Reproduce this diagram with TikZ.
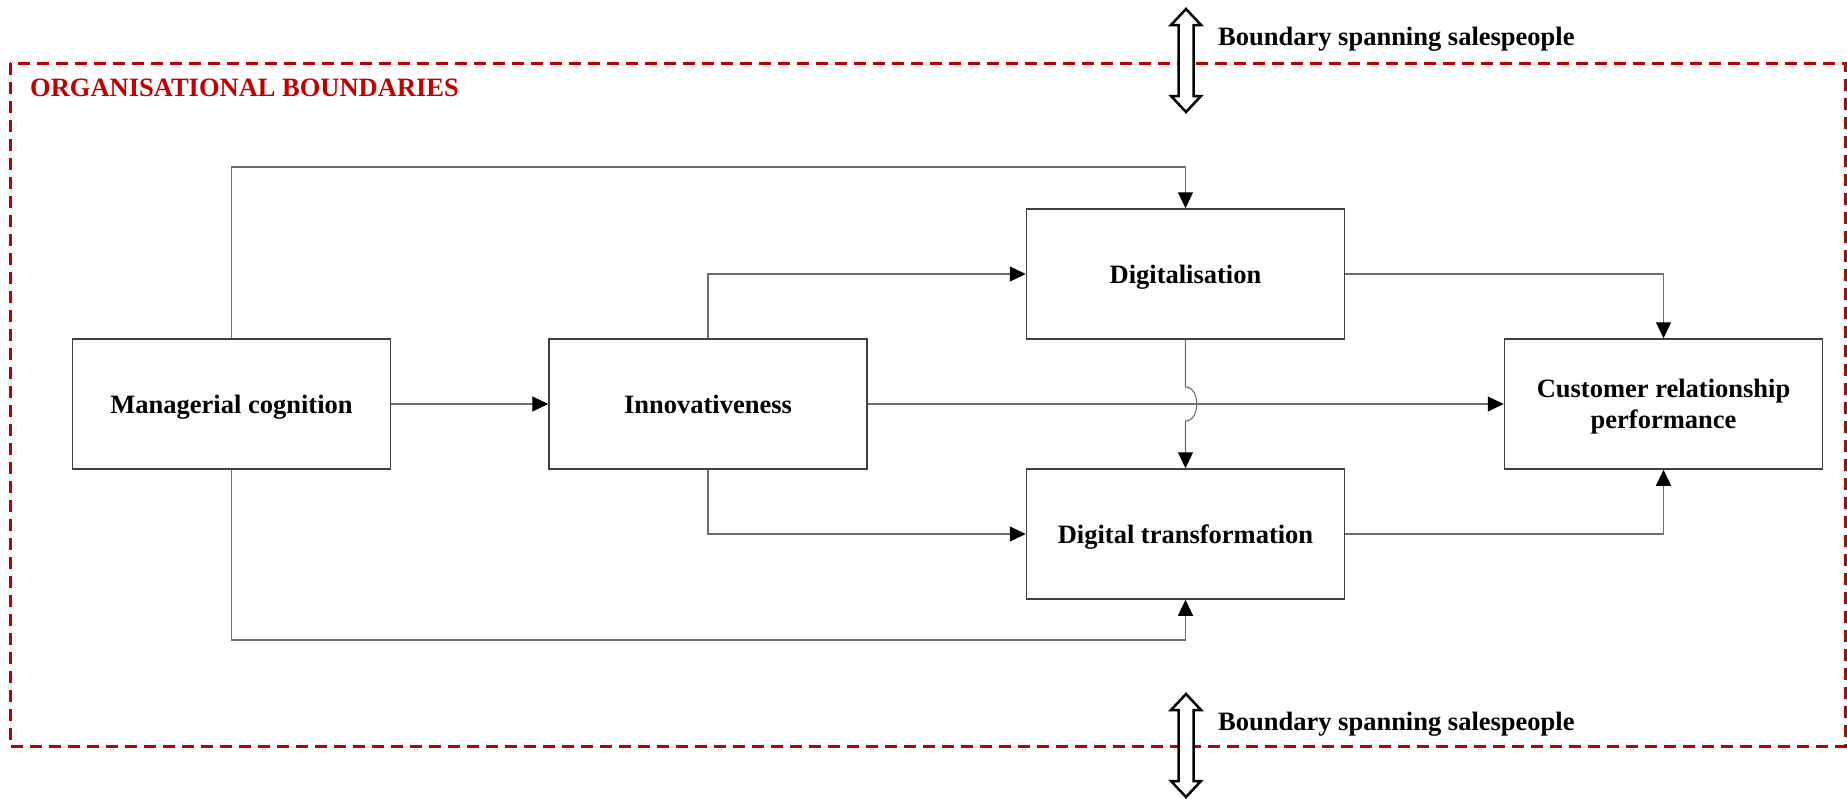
\documentclass[tikz,border=0pt]{standalone}
\usepackage{fontspec}
\setmainfont{Liberation Serif}
\usetikzlibrary{arrows.meta}
\definecolor{orgred}{HTML}{C00000}
\definecolor{boxline}{HTML}{404040}
\definecolor{linkline}{HTML}{6E6E6E}

\tikzset{
  label text/.style={font=\fontsize{26.5}{30.5}\selectfont\bfseries},
  construct/.style={label text, draw=boxline, line width=1.5pt, fill=white,
    minimum width=318pt, minimum height=130pt, align=center, inner sep=0pt,
    text depth=0pt},
  link/.style={draw=linkline, line width=1.1pt,
    -{Triangle[length=16pt,width=15pt,color=black]}},
  boundary/.style={draw=orgred, line width=3pt, dash pattern=on 12pt off 7pt},
  spanarrow/.style={draw=black, line width=2.5pt, fill=white, line join=miter},
  bsarrow/.pic={
    \path[spanarrow] (0,0) -- (15,16) -- (7.5,16) -- (7.5,87) -- (15,87)
      -- (0,103) -- (-15,87) -- (-7.5,87) -- (-7.5,16) -- (-15,16) -- cycle;
  }
}

\begin{document}
\begin{tikzpicture}[x=1pt,y=-1pt]
\useasboundingbox (0,0) rectangle (1847,798);

% organisational boundary
\draw[boundary] (10,63) rectangle (1845,746);
\node[label text, text=orgred, anchor=base west, inner sep=0pt] (orgtitle)
  at (30,96) {ORGANISATIONAL BOUNDARIES};

% constructs
\node[construct] (mc)  at (231.5,404)  {Managerial cognition};
\node[construct] (inn) at (708,404)    {Innovativeness};
\node[construct] (dig) at (1185.5,274) {Digitalisation};
\node[construct] (dt)  at (1185.5,534) {Digital transformation};
\node[construct] (crp) at (1663.5,404) {Customer relationship\\performance};

% routing rails
\coordinate (toprail) at (0,167);
\coordinate (botrail) at (0,640);
\coordinate (hop) at (dig.south |- inn.east);

% paths
\draw[link] (mc.north) |- (toprail -| dig.north) -- (dig.north);
\draw[link] (mc.south) |- (botrail -| dt.south) -- (dt.south);
\draw[link] (mc.east) -- (inn.west);
\draw[link] (inn.north) |- (dig.west);
\draw[link] (inn.south) |- (dt.west);
\draw[link] (inn.east) -- (crp.west);
\draw[link] (dig.east) -| (crp.north);
\draw[link] (dt.east) -| (crp.south);
\draw[link] (dig.south) -- ([yshift=17pt]hop)
  .. controls +(15,0) and +(15,0) .. ([yshift=-17pt]hop) -- (dt.north);

% boundary spanning salespeople
\pic at (1186,9) {bsarrow};
\pic at (1186,694) {bsarrow};
\node[label text, anchor=base west, inner sep=0pt] (bstop) at (1218,45)
  {Boundary spanning salespeople};
\node[label text, anchor=base west, inner sep=0pt] (bsbot) at (1218,730)
  {Boundary spanning salespeople};
\end{tikzpicture}
\end{document}
